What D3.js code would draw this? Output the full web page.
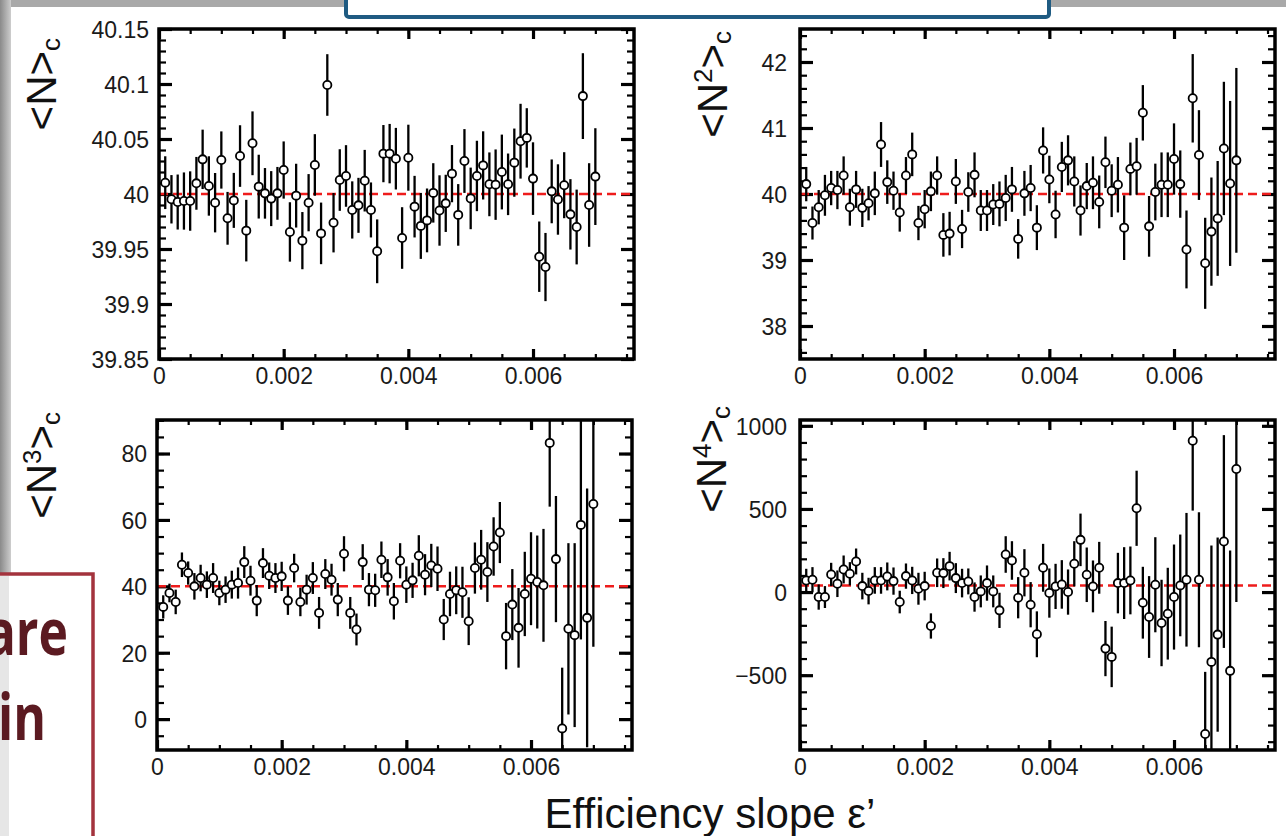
<!DOCTYPE html>
<meta charset="utf-8">
<style>
body { margin: 0; background: #fff; }
svg { display: block; font-family: "Liberation Sans", Arial, sans-serif; }
.frame { fill: none; stroke: #000; stroke-width: 3.5px; }
.axis path { display: none; }
.axis .tick line { stroke: #000; }
.major .tick line { stroke-width: 3.2px; }
.minor .tick line { stroke-width: 2.2px; }
.axis text { font-size: 23px; fill: #1a1a1a; font-family: "Liberation Sans", Arial, sans-serif; }
.ref { stroke: #ee1c1c; stroke-width: 2.5px; stroke-dasharray: 9,5; }
.err { stroke: #000; stroke-width: 2.3px; }
.pt { fill: #fff; stroke: #000; stroke-width: 1.8px; }
.ytitle { font-size: 42px; fill: #111; }
</style>
<svg width="1286" height="836"></svg>
<script src="https://d3js.org/d3.v7.min.js"></script>
<script>
// efficiency slope bins
var epsSlope = [0.0001,0.0002,0.0003,0.0004,0.0005,0.0006,0.0007,0.0008,0.0009,0.0010,
  0.0011,0.0012,0.0013,0.0014,0.0015,0.0016,0.0017,0.0018,0.0019,0.0020,
  0.0021,0.0022,0.0023,0.0024,0.0025,0.0026,0.0027,0.0028,0.0029,0.0030,
  0.0031,0.0032,0.0033,0.0034,0.0035,0.0036,0.0037,0.0038,0.0039,0.0040,
  0.0041,0.0042,0.0043,0.0044,0.0045,0.0046,0.0047,0.0048,0.0049,0.0050,
  0.0051,0.0052,0.0053,0.0054,0.0055,0.0056,0.0057,0.0058,0.0059,0.0060,
  0.0061,0.0062,0.0063,0.0064,0.0065,0.0066,0.0067,0.0068,0.0069,0.0070];

// <N>_c
var n1Val = [40.0103,39.9952,39.9927,39.9936,39.9936,40.0097,40.0315,40.0073,39.9921,40.0309,
  39.9779,39.9942,40.0345,39.9667,40.0461,40.0067,40.0006,39.9958,40.0006,40.0218,
  39.9655,39.9985,39.9576,39.9921,40.0264,39.9642,40.0991,39.9739,40.0127,40.0164,
  39.9855,39.9897,40.0121,39.9855,39.9479,40.0367,40.0367,40.0321,39.9600,40.0330,
  39.9885,39.9710,39.9760,40.0010,39.9850,39.9915,40.0185,39.9810,40.0300,39.9960,
  40.0164,40.0260,40.0088,40.0085,40.0200,40.0088,40.0285,40.0480,40.0510,40.0140,
  39.9430,39.9336,40.0024,39.9950,40.0080,39.9815,39.9700,40.0890,39.9900,40.0158];
var n1Err = [0.024,0.022,0.025,0.026,0.027,0.024,0.027,0.027,0.027,0.026,
  0.024,0.025,0.028,0.028,0.029,0.029,0.023,0.025,0.024,0.026,
  0.027,0.029,0.026,0.026,0.028,0.028,0.028,0.027,0.028,0.028,
  0.026,0.025,0.028,0.025,0.029,0.026,0.027,0.028,0.028,0.030,
  0.028,0.030,0.029,0.027,0.032,0.026,0.026,0.028,0.029,0.028,
  0.032,0.031,0.029,0.032,0.034,0.028,0.031,0.034,0.027,0.033,
  0.032,0.031,0.029,0.032,0.030,0.032,0.034,0.039,0.038,0.044];

// <N^2>_c
var n2Val = [40.15,39.56,39.80,39.98,40.09,40.06,40.28,39.80,40.07,39.79,
  39.86,40.01,40.75,40.18,40.05,39.72,40.28,40.60,39.56,39.77,
  40.04,40.28,39.38,39.40,40.19,39.47,40.03,40.29,39.75,39.75,
  39.84,39.85,39.94,40.07,39.32,40.01,40.09,39.49,40.66,40.22,
  39.69,40.41,40.51,40.19,39.75,40.12,40.17,39.88,40.48,40.05,
  40.14,39.49,40.38,40.42,41.23,39.51,40.03,40.14,40.14,40.53,
  40.15,39.16,41.45,40.59,38.95,39.43,39.63,40.69,40.16,40.51];
var n2Err = [0.26,0.25,0.26,0.31,0.26,0.29,0.29,0.28,0.28,0.29,
  0.26,0.33,0.34,0.33,0.29,0.29,0.28,0.33,0.26,0.29,
  0.30,0.29,0.33,0.33,0.34,0.29,0.30,0.34,0.31,0.31,
  0.31,0.34,0.35,0.34,0.30,0.34,0.35,0.34,0.35,0.36,
  0.36,0.38,0.38,0.38,0.38,0.35,0.40,0.40,0.39,0.40,
  0.42,0.49,0.40,0.43,0.42,0.46,0.43,0.49,0.49,0.54,
  0.51,0.59,0.67,0.68,0.69,0.82,0.87,1.01,1.25,1.40];

// <N^3>_c
var n3Val = [33.8,38.0,35.3,46.5,44.0,40.0,42.5,40.5,42.5,38.0,
  39.0,40.5,41.0,47.3,41.7,35.7,47.0,43.2,42.5,43.0,
  35.7,45.5,35.3,39.0,42.5,32.0,43.7,42.0,36.0,49.8,
  32.0,27.0,47.3,39.0,38.8,48.0,42.7,35.5,47.7,40.5,
  41.8,49.2,43.5,46.3,45.3,30.0,37.7,38.8,38.2,29.5,
  45.5,48.0,44.3,52.0,56.2,25.0,34.5,27.5,37.7,42.3,
  41.3,40.3,83.2,48.2,-2.8,27.2,25.3,58.5,30.5,64.8];
var n3Err = [3.5,2.8,3.7,3.7,3.5,4.0,4.0,4.0,4.5,3.7,
  4.0,4.2,4.7,4.8,4.5,4.7,4.5,4.0,4.5,4.4,
  4.3,4.3,4.3,4.5,4.8,4.8,4.5,4.8,5.0,5.3,
  4.8,4.8,5.4,5.0,5.0,5.5,5.5,5.5,5.3,5.5,
  5.3,6.2,6.2,6.5,6.7,6.2,6.7,7.2,7.7,7.2,
  7.7,9.0,9.0,8.8,9.2,10.0,10.7,12.0,12.7,14.0,
  14.0,17.0,19.2,19.0,18.3,25.8,27.7,34.5,39.0,43.0];

// <N^4>_c
var n4Val = [70,74,-30,-30,106,50,136,110,184,36,
  6,70,70,94,66,-60,96,70,20,36,
  -204,116,114,156,84,54,64,-30,4,54,
  4,-110,226,190,-34,116,-76,-254,146,-6,
  34,46,0,170,314,104,34,146,-340,-390,
  54,54,70,504,-64,-150,44,-186,-130,-30,
  40,74,910,74,-854,-420,-256,304,-474,740];
var n4Err = [70,76,76,66,70,80,84,70,78,80,
  80,80,80,84,82,68,76,82,96,86,
  76,86,90,86,90,86,78,88,96,106,
  96,106,110,116,124,142,136,138,144,148,
  136,146,136,136,158,164,156,156,166,182,
  182,216,204,226,216,246,286,260,276,316,
  306,402,420,406,374,700,584,640,724,800];

// axis ticks
var xTicks = [0, 0.002, 0.004, 0.006];
var n1Ticks = [39.85, 39.9, 39.95, 40, 40.05, 40.1, 40.15];
var n2Ticks = [38, 39, 40, 41, 42];
var n3Ticks = [0, 20, 40, 60, 80];
var n4Ticks = [-500, 0, 500, 1000];
var refValue = 40;

var svg = d3.select("svg");

// slide decorations behind the figure
var grad = svg.append("defs").append("linearGradient").attr("id", "gl");
grad.append("stop").attr("offset", "0").attr("stop-color", "#8a8a8a");
grad.append("stop").attr("offset", "1").attr("stop-color", "#cdcdcd");
svg.append("rect").attr("x", 0).attr("y", 0).attr("width", 1286).attr("height", 7).attr("fill", "#a9a9a9");
svg.append("rect").attr("x", 0).attr("y", 0).attr("width", 11).attr("height", 576).attr("fill", "url(#gl)");
svg.append("rect").attr("x", 346).attr("y", -20).attr("width", 703).attr("height", 37)
    .attr("rx", 3).attr("fill", "#fff").attr("stroke", "#1f5b82").attr("stroke-width", 4);

var panels = [
  {val: n1Val, err: n1Err, dom: [39.85, 40.15], ticks: n1Ticks, minor: 0.01,
   x0: 159, x1: 634, y0: 29, y1: 359, sup: "", tx: 56, ty: 38},
  {val: n2Val, err: n2Err, dom: [37.5, 42.5], ticks: n2Ticks, minor: 0.2,
   x0: 800, x1: 1275, y0: 29, y1: 359, sup: "2", tx: 727, ty: 31},
  {val: n3Val, err: n3Err, dom: [-9.3, 90.1], ticks: n3Ticks, minor: 5,
   x0: 157, x1: 632, y0: 420, y1: 750, sup: "3", tx: 56, ty: 412},
  {val: n4Val, err: n4Err, dom: [-950, 1035], ticks: n4Ticks, minor: 100,
   x0: 800, x1: 1275, y0: 420, y1: 750, sup: "4", tx: 726, ty: 406}
];

function minorValues(dom, step) {
  var k0 = Math.ceil(dom[0] / step - 1e-6), k1 = Math.floor(dom[1] / step + 1e-6);
  return d3.range(k0, k1 + 1).map(function (k) { return +(k * step).toPrecision(10); });
}

panels.forEach(function (p, pi) {
  var x = d3.scaleLinear().domain([0, 0.00762]).range([p.x0, p.x1]);
  var y = d3.scaleLinear().domain(p.dom).range([p.y1, p.y0]);
  var g = svg.append("g");

  g.append("clipPath").attr("id", "clip" + pi)
    .append("rect").attr("x", p.x0).attr("y", p.y0)
    .attr("width", p.x1 - p.x0).attr("height", p.y1 - p.y0);

  var xMinor = minorValues([0, 0.00762], 0.0005);
  var yMinor = minorValues(p.dom, p.minor);

  // minor ticks on all four sides
  g.append("g").attr("class", "axis minor").attr("transform", "translate(0," + p.y1 + ")")
    .call(d3.axisBottom(x).tickValues(xMinor).tickSizeInner(-5).tickSizeOuter(0).tickFormat(""));
  g.append("g").attr("class", "axis minor").attr("transform", "translate(0," + p.y0 + ")")
    .call(d3.axisTop(x).tickValues(xMinor).tickSizeInner(-5).tickSizeOuter(0).tickFormat(""));
  g.append("g").attr("class", "axis minor").attr("transform", "translate(" + p.x0 + ",0)")
    .call(d3.axisLeft(y).tickValues(yMinor).tickSizeInner(-7).tickSizeOuter(0).tickFormat(""));
  g.append("g").attr("class", "axis minor").attr("transform", "translate(" + p.x1 + ",0)")
    .call(d3.axisRight(y).tickValues(yMinor).tickSizeInner(-7).tickSizeOuter(0).tickFormat(""));

  // major ticks + labels
  var bx = g.append("g").attr("class", "axis major").attr("transform", "translate(0," + p.y1 + ")")
    .call(d3.axisBottom(x).tickValues(xTicks).tickSizeInner(-10).tickSizeOuter(0).tickFormat(d3.format("")));
  bx.selectAll("text").attr("y", 25).attr("dy", 0);
  g.append("g").attr("class", "axis major").attr("transform", "translate(0," + p.y0 + ")")
    .call(d3.axisTop(x).tickValues(xTicks).tickSizeInner(-10).tickSizeOuter(0).tickFormat(""));
  var ly = g.append("g").attr("class", "axis major").attr("transform", "translate(" + p.x0 + ",0)")
    .call(d3.axisLeft(y).tickValues(p.ticks).tickSizeInner(-13).tickSizeOuter(0).tickFormat(d3.format("")));
  ly.selectAll("text").attr("x", pi % 2 ? -13 : -10).attr("dy", "0.36em");
  g.append("g").attr("class", "axis major").attr("transform", "translate(" + p.x1 + ",0)")
    .call(d3.axisRight(y).tickValues(p.ticks).tickSizeInner(-13).tickSizeOuter(0).tickFormat(""));

  // reference line
  g.append("line").attr("class", "ref")
    .attr("x1", p.x0).attr("x2", p.x1).attr("y1", y(refValue)).attr("y2", y(refValue));

  // error bars and points
  var data = epsSlope.map(function (e, i) { return {x: e, v: p.val[i], s: p.err[i]}; });
  var inner = g.append("g").attr("clip-path", "url(#clip" + pi + ")");
  inner.selectAll("line.err").data(data).enter().append("line")
    .attr("class", "err")
    .attr("x1", function (d) { return x(d.x); }).attr("x2", function (d) { return x(d.x); })
    .attr("y1", function (d) { return y(d.v - d.s); }).attr("y2", function (d) { return y(d.v + d.s); });
  inner.selectAll("circle").data(data).enter().append("circle")
    .attr("class", "pt").attr("r", 4.1)
    .attr("cx", function (d) { return x(d.x); }).attr("cy", function (d) { return y(d.v); });

  g.append("rect").attr("class", "frame")
    .attr("x", p.x0).attr("y", p.y0).attr("width", p.x1 - p.x0).attr("height", p.y1 - p.y0);

  // y title <N^k>_c
  var t = g.append("text").attr("class", "ytitle")
    .attr("transform", "translate(" + p.tx + "," + p.ty + ") rotate(-90)")
    .attr("text-anchor", "end");
  t.append("tspan").text("<N");
  if (p.sup) {
    t.append("tspan").attr("font-size", "26px").attr("dy", -15).text(p.sup);
    t.append("tspan").attr("dy", 15).text(">");
  } else {
    t.append("tspan").text(">");
  }
  t.append("tspan").attr("font-size", "26px").attr("dy", 4).text("c");
});

svg.append("text")
  .attr("x", 710).attr("y", 828)
  .attr("text-anchor", "middle")
  .style("font-size", "42px").style("fill", "#111")
  .text("Efficiency slope \u03b5\u2019");

// partly hidden text box on the left of the slide
svg.append("rect").attr("x", -20).attr("y", 574).attr("width", 113).attr("height", 300)
  .attr("fill", "#fff").attr("stroke", "#a3333d").attr("stroke-width", 3.5);
svg.append("rect").attr("x", 0).attr("y", 576).attr("width", 9).attr("height", 260).attr("fill", "#e6e6e6");
svg.append("text").attr("transform", "translate(68,655) scale(0.78,1)").attr("text-anchor", "end")
  .style("font-family", "'Open Sans', sans-serif").style("font-weight", "bold")
  .style("font-size", "64px").style("fill", "#5b1a21").text("are");
svg.append("text").attr("transform", "translate(46,740) scale(0.78,1)").attr("text-anchor", "end")
  .style("font-family", "'Open Sans', sans-serif").style("font-weight", "bold")
  .style("font-size", "64px").style("fill", "#5b1a21").text("in");
</script>
